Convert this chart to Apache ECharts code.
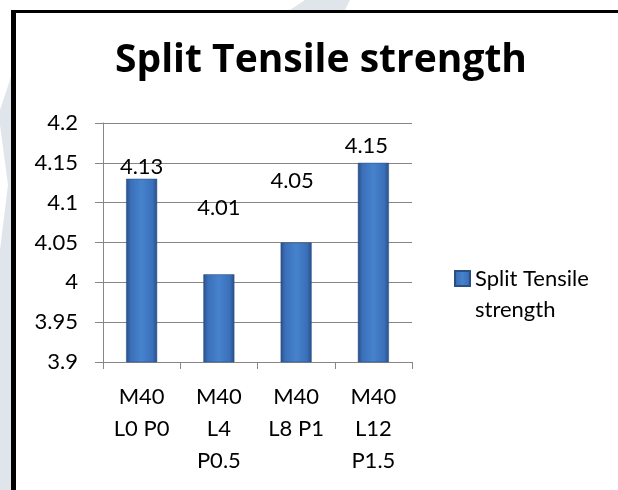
<!DOCTYPE html>
<html><head><meta charset="utf-8">
<script src="https://cdn.jsdelivr.net/npm/echarts@6/dist/echarts.min.js"></script>
<style>html,body{margin:0;padding:0;background:#fff}#c{width:618px;height:490px}</style>
</head><body><div id="c"></div>
<script>
const categories = ["M40\nL0 P0", "M40\nL4\nP0.5", "M40\nL8 P1", "M40\nL12\nP1.5"];
const values = [4.13, 4.01, 4.05, 4.15];
const seriesName = "Split Tensile strength";
const titleText = "Split Tensile strength";
const legendLabel = "Split Tensile\nstrength";

// label placement tweaks (style only), as drawn in the reference
const labelShift = [[0, 0], [0, -54], [-4, -50], [-7, -5]];

const font = "Lato";
const wm = '#dfe5ea';
const chart = echarts.init(document.getElementById('c'));
chart.setOption({
  animation: false,
  backgroundColor: '#fff',
  title: {
    text: titleText, left: 321, top: 41, textAlign: 'center', padding: 0,
    textStyle: {fontFamily: 'Open Sans', fontWeight: 'bold', fontSize: 39, color: '#000'}
  },
  legend: {
    data: [seriesName], left: 454, top: 232, orient: 'vertical', padding: 0,
    itemWidth: 15, itemHeight: 15, itemGap: 6,
    formatter: () => '\n' + legendLabel,
    textStyle: {fontFamily: font, fontSize: 22, color: '#000', lineHeight: 31},
    icon: 'rect'
  },
  grid: {left: 103, top: 123, width: 309, height: 239},
  xAxis: {
    type: 'category', data: categories,
    axisLine: {lineStyle: {color: '#868686'}},
    axisTick: {show: true, length: 7, lineStyle: {color: '#868686'}},
    axisLabel: {fontFamily: font, fontSize: 22, color: '#000', lineHeight: 32, margin: 19, interval: 0}
  },
  yAxis: {
    type: 'value', min: 3.9, max: 4.2, interval: 0.05,
    axisLine: {show: true, lineStyle: {color: '#868686'}},
    axisTick: {show: true, length: 8, lineStyle: {color: '#868686'}},
    splitLine: {lineStyle: {color: '#868686'}},
    axisLabel: {fontFamily: font, fontSize: 22, color: '#000', margin: 25,
      formatter: v => String(+v.toFixed(2))}
  },
  series: [{
    name: seriesName, type: 'bar', barWidth: 31,
    data: values.map((v, i) => ({value: v, label: {offset: labelShift[i]}})),
    itemStyle: {
      borderColor: '#2a4f85', borderWidth: 0.5,
      color: new echarts.graphic.LinearGradient(0, 0, 1, 0, [
        {offset: 0, color: '#284f8a'},
        {offset: 0.15, color: '#3b70b9'},
        {offset: 0.5, color: '#4682cd'},
        {offset: 0.85, color: '#3b70b9'},
        {offset: 1, color: '#284f8a'}
      ])
    },
    label: {show: true, position: 'top', distance: 1, fontFamily: font, fontSize: 22, color: '#000',
      formatter: p => String(p.value)}
  }],
  graphic: [
    {type: 'polygon', shape: {points: [[0, 110], [11, 77], [11, 490], [0, 490]]}, style: {fill: wm}, z: 1},
    {type: 'polygon', shape: {points: [[0, 125], [8, 185], [0, 250]]}, style: {fill: '#fff'}, z: 2},
    {type: 'polygon', shape: {points: [[290, 10], [305, 0], [350, 0], [345, 10]]}, style: {fill: wm}, z: 1},
    {type: 'rect', shape: {x: 11, y: 10, width: 607, height: 3}, style: {fill: '#000'}, z: 10},
    {type: 'rect', shape: {x: 11, y: 10, width: 5, height: 480}, style: {fill: '#000'}, z: 10}
  ]
});
</script></body></html>
